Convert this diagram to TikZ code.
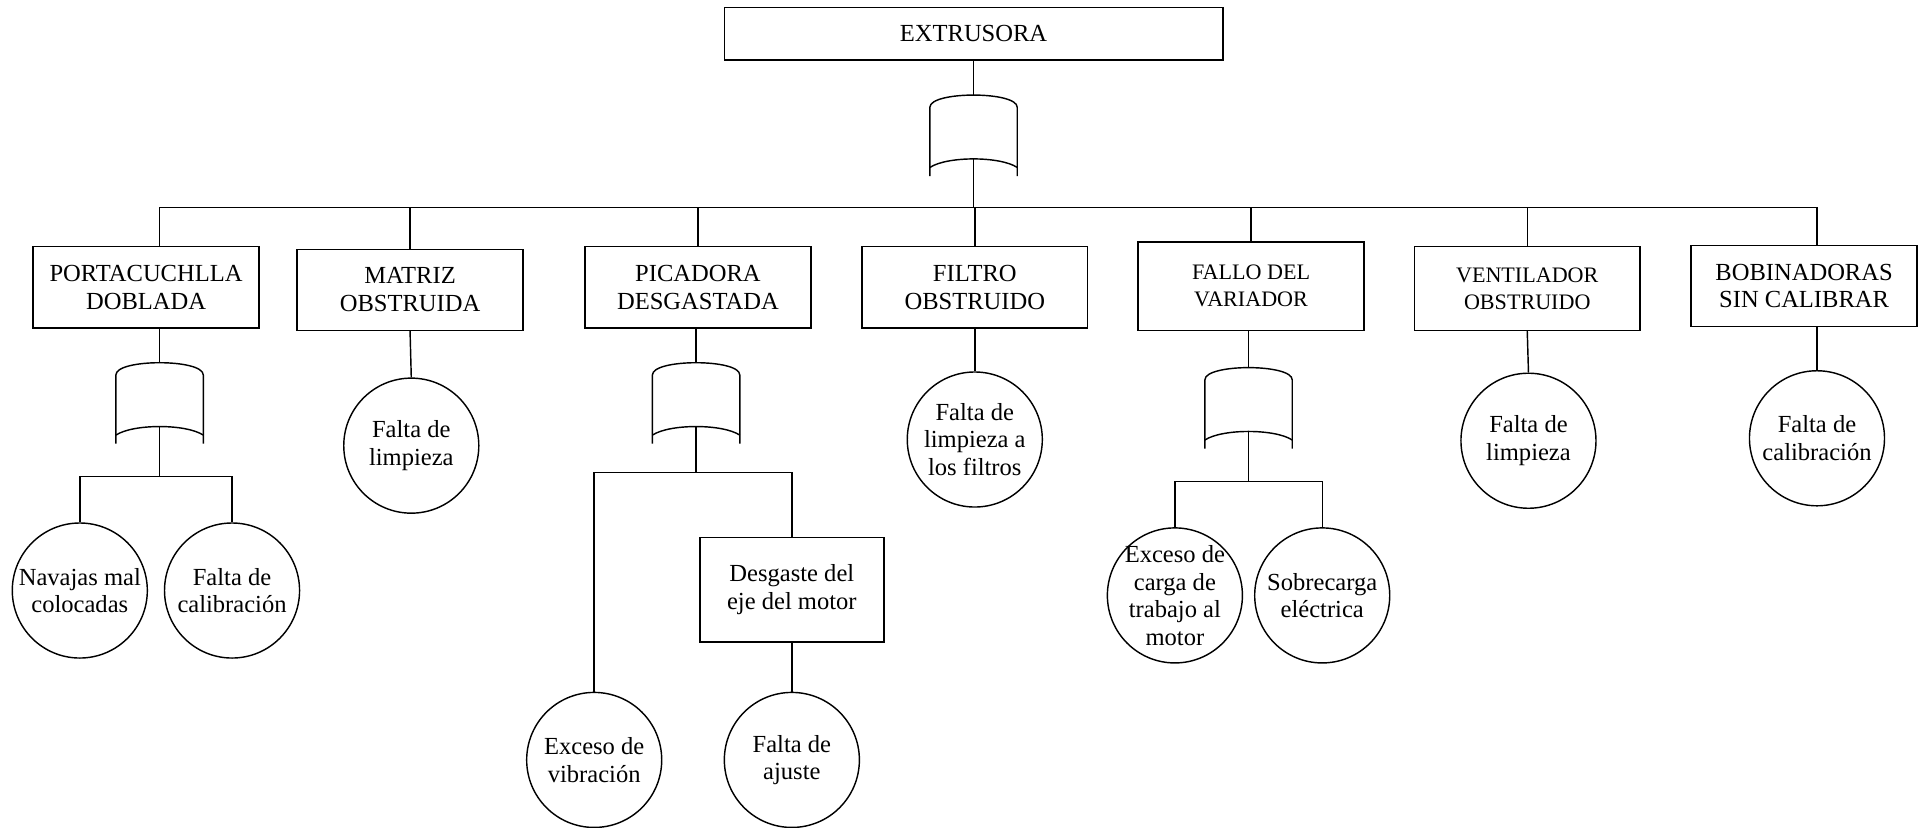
\documentclass[tikz,border=0pt]{standalone}
\usepackage{fontspec}
\setmainfont{Liberation Serif}
\usetikzlibrary{calc}

% Gate symbol drawn inside an empty node: rounded top, curved bottom,
% and a coordinate <name>-out at the peak of the bottom curve.
\newcommand{\gatefig}[1]{%
  \draw ($(#1.north west)+(0,66)$) -- ($(#1.north west)+(0,10)$)
     .. controls ($(#1.north west)+(0,-3.3)$) and ($(#1.north east)+(0,-3.3)$)
     .. ($(#1.north east)+(0,10)$) -- ($(#1.north east)+(0,66)$);
  \draw ($(#1.north west)+(0,59)$)
     .. controls ($(#1.north west)+(14,49.7)$) and ($(#1.north east)+(-14,49.7)$)
     .. ($(#1.north east)+(0,59)$);
  \coordinate (#1-out) at ($(#1.north)+(0,52)$);
}

\begin{document}
\begin{tikzpicture}[x=0.6pt,y=-0.6pt,
  line width=0.7pt,
  every node/.style={font=\fontsize{12}{13.5}\selectfont},
  event/.style={draw, rectangle, minimum width=110.4pt, minimum height=39.6pt,
    align=center, inner sep=2pt},
  smalltext/.style={font=\fontsize{10.8}{13}\selectfont},
  basic/.style={draw, circle, minimum size=66pt, inner sep=0pt},
  gatebox/.style={rectangle, minimum width=42pt, minimum height=39.6pt, inner sep=0pt},
  inside/.style={label={[align=center]center:#1}},
]
\useasboundingbox (0,0) rectangle (1568,674);

% top event and main gate
\node[event, minimum width=243.6pt, minimum height=25.8pt] (top) at (793,27.5) {EXTRUSORA};
\node[gatebox] (g0) at (793,111) {};
\gatefig{g0}

% bus
\coordinate (bl) at (130,169);
\coordinate (br) at (1480,169);
\coordinate (bm) at (793,169);

% second level events
\node[event] (b1) at (119,234) {PORTACUCHLLA\\DOBLADA};
\node[event] (b2) at (334,236) {MATRIZ\\OBSTRUIDA};
\node[event] (b3) at (568.5,234) {PICADORA\\DESGASTADA};
\node[event] (b4) at (794,234) {FILTRO\\OBSTRUIDO};
\node[event, smalltext, minimum height=43.2pt] (b5) at (1019,233) {FALLO DEL\\VARIADOR};
\node[event, smalltext, minimum height=40.8pt] (b6) at (1244,235) {VENTILADOR\\OBSTRUIDO};
\node[event] (b7) at (1469.5,233) {BOBINADORAS\\SIN CALIBRAR};

\draw (top.south) -- (g0.north);
\draw (g0-out) -- (bm);
\draw (bl) -- (br);
\draw (bl) -- (bl |- b1.north);
\draw (b2.north |- bl) -- (b2.north);
\draw (b3.north |- bl) -- (b3.north);
\draw (b4.north |- bl) -- (b4.north);
\draw (b5.north |- bl) -- (b5.north);
\draw (b6.north |- bl) -- (b6.north);
\draw (br) -- (br |- b7.north);

% branch 1
\node[gatebox] (g1) at (130,329) {};
\gatefig{g1}
\coordinate (k1) at (130,388);
\node[basic, inside={Navajas mal\\colocadas}] (n1) at (65,481) {};
\node[basic, inside={Falta de\\calibración}] (n2) at (189,481) {};
\draw (g1.north |- b1.south) -- (g1.north);
\draw (g1-out) -- (k1);
\draw (n1.north) -- (n1.north |- k1) -- (n2.north |- k1) -- (n2.north);

% branch 2
\node[basic, inside={Falta de\\limpieza}] (m2) at (335,363) {};
\draw (b2.south) -- (m2.north);

% branch 3
\node[gatebox] (g3) at (567,329) {};
\gatefig{g3}
\coordinate (k3) at (567,385);
\node[event, minimum width=90pt, minimum height=51pt] (d3) at (645,480.5) {Desgaste del\\eje del motor};
\node[basic, inside={Exceso de\\vibración}] (n3a) at (484,619) {};
\node[basic, inside={Falta de\\ajuste}] (n3b) at (645,619) {};
\draw (g3.north |- b3.south) -- (g3.north);
\draw (g3-out) -- (k3);
\draw (n3a.north) -- (n3a.north |- k3) -- (d3.north |- k3) -- (d3.north);
\draw (d3.south) -- (n3b.north);

% branch 4
\node[basic, inside={Falta de\\limpieza a\\los filtros}] (m4) at (794,358) {};
\draw (b4.south) -- (m4.north);

% branch 5
\node[gatebox] (g5) at (1017,333) {};
\gatefig{g5}
\coordinate (k5) at (1017,392);
\node[basic, inside={Exceso de\\carga de\\trabajo al\\motor}] (n5a) at (957,485) {};
\node[basic, inside={Sobrecarga\\eléctrica}] (n5b) at (1077,485) {};
\draw (g5.north |- b5.south) -- (g5.north);
\draw (g5-out) -- (k5);
\draw (n5a.north) -- (n5a.north |- k5) -- (n5b.north |- k5) -- (n5b.north);

% branch 6
\node[basic, inside={Falta de\\limpieza}] (m6) at (1245,359) {};
\draw (b6.south) -- (m6.north);

% branch 7
\node[basic, inside={Falta de\\calibración}] (m7) at (1480,357) {};
\draw (m7.north |- b7.south) -- (m7.north);
\end{tikzpicture}
\end{document}
